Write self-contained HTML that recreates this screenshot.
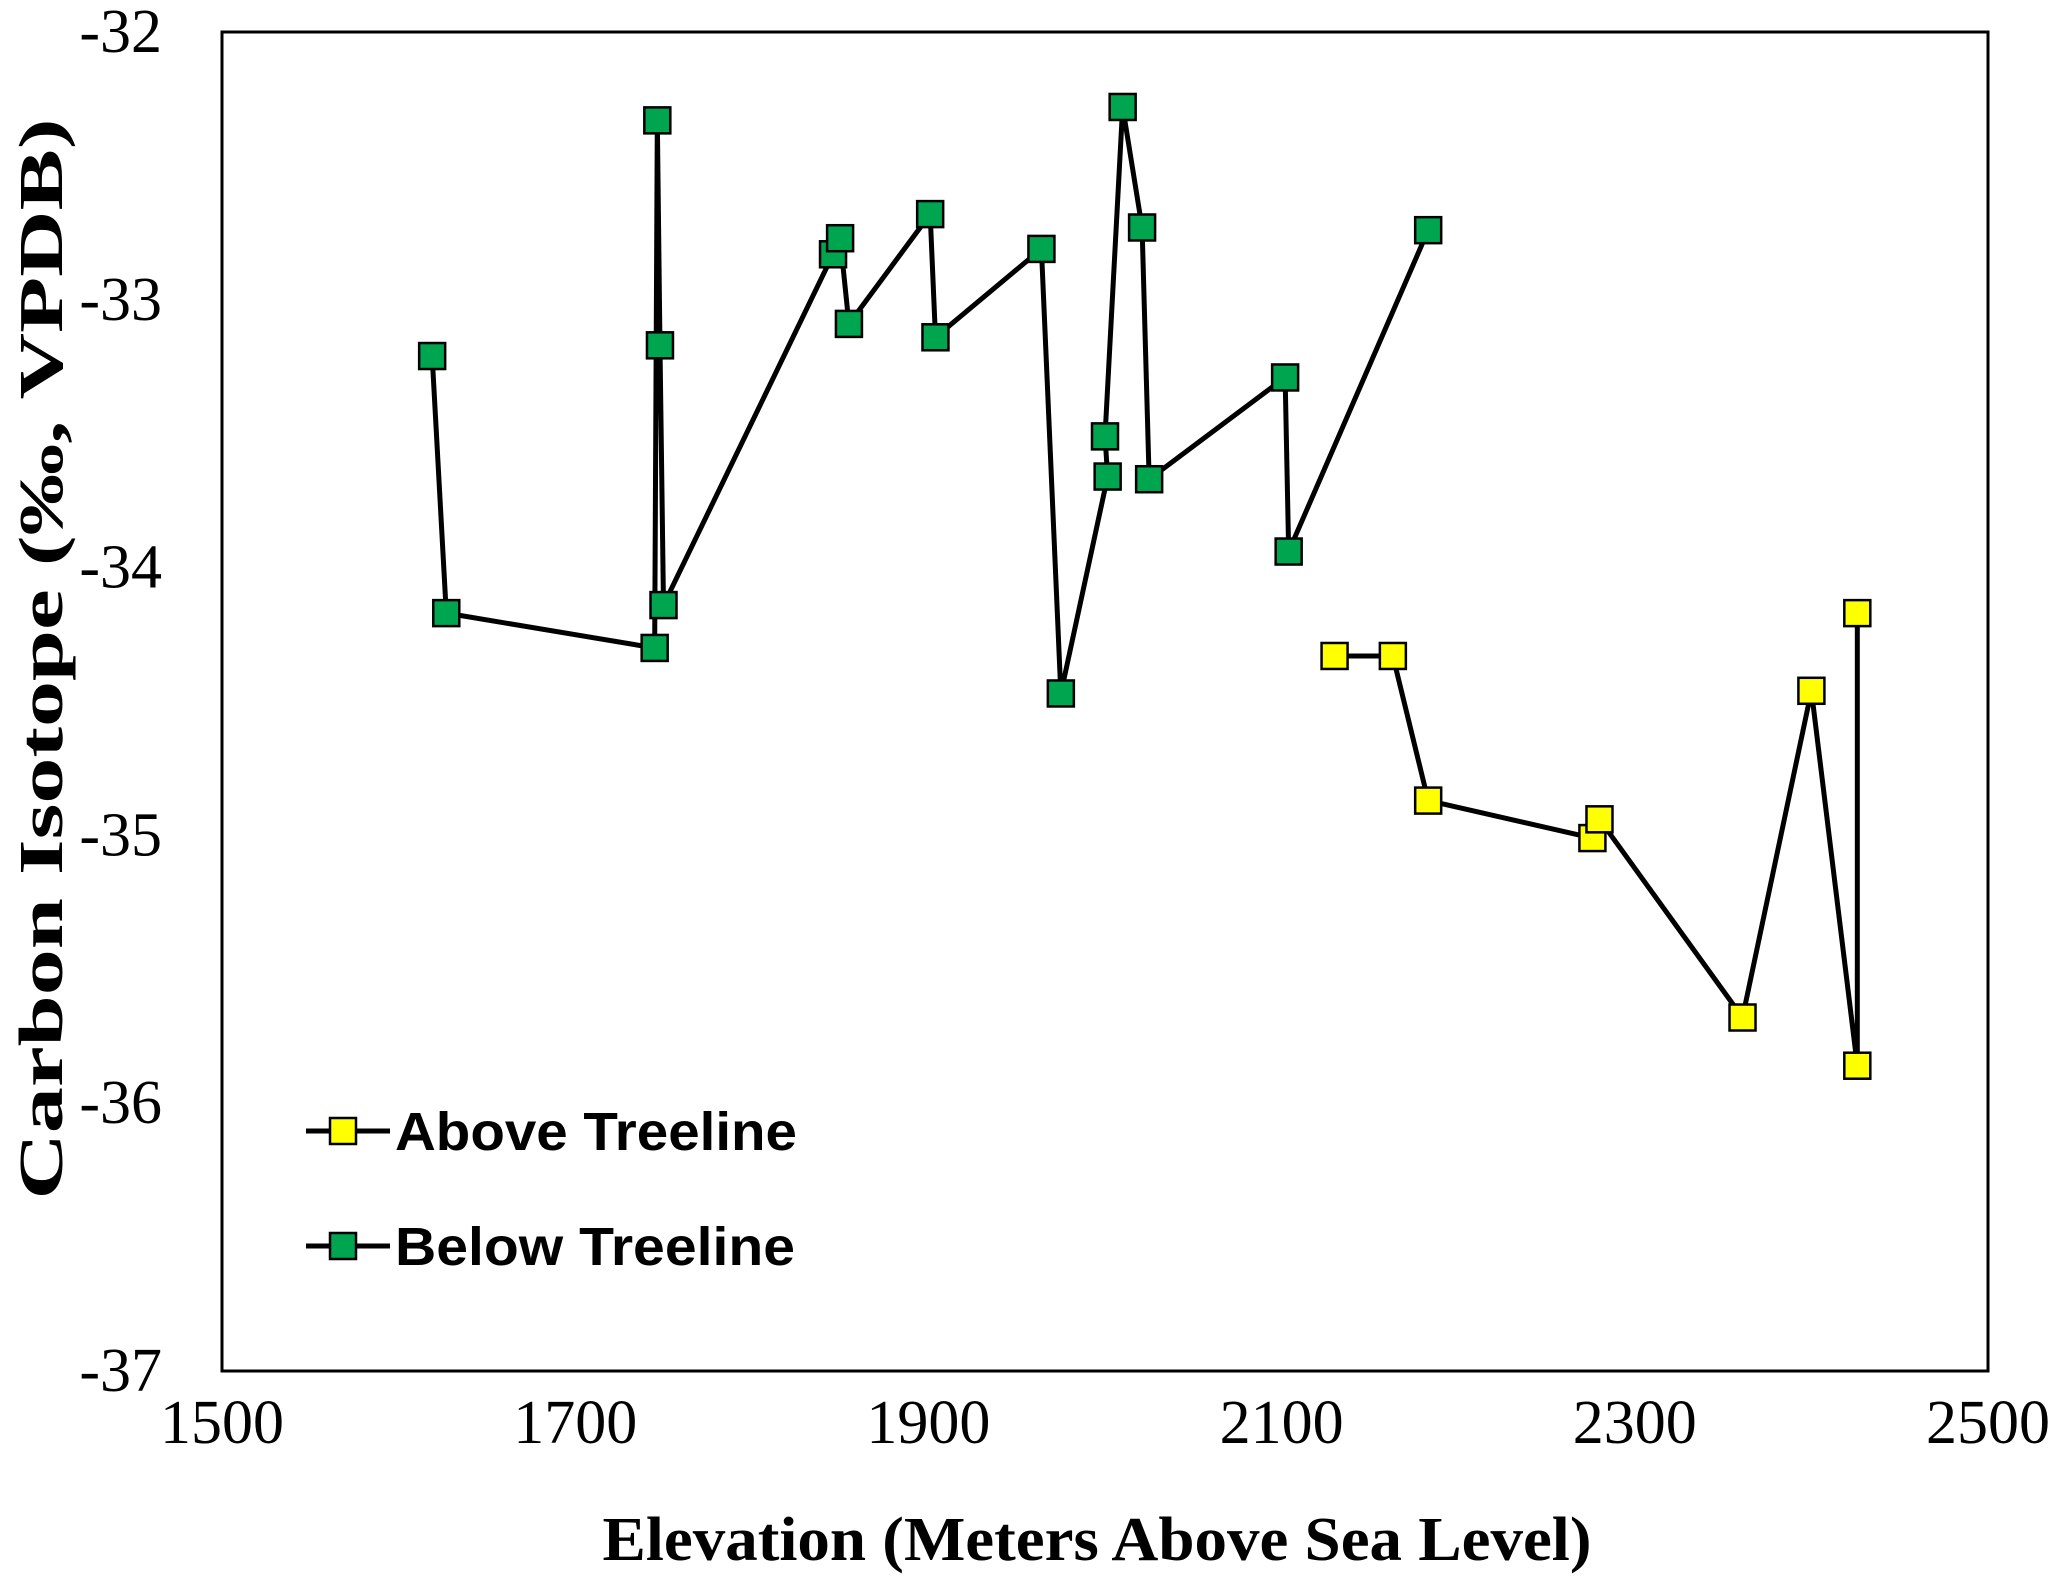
<!DOCTYPE html>
<html><head><meta charset="utf-8"><style>
html,body{margin:0;padding:0;background:#fff;}
svg{display:block;}
</style></head><body>
<svg id="chart" width="2067" height="1585" viewBox="0 0 2067 1585" xmlns="http://www.w3.org/2000/svg">
<rect x="222" y="32" width="1766" height="1339" fill="#fff" stroke="#000" stroke-width="3"/>
<g id="ticks"></g>
<g id="series"></g>
<text x="42" y="659" transform="rotate(-90 42 659)" text-anchor="middle" dominant-baseline="central" font-family="Liberation Serif, serif" font-weight="bold" font-size="62" textLength="1081" lengthAdjust="spacingAndGlyphs">Carbon Isotope (‰, VPDB)</text>
<text x="1097" y="1560" text-anchor="middle" font-family="Liberation Serif, serif" font-weight="bold" font-size="62" textLength="989" lengthAdjust="spacingAndGlyphs">Elevation (Meters Above Sea Level)</text>
<g>
 <g>
  <line x1="306" y1="1131" x2="390" y2="1131" stroke="#000" stroke-width="5"/>
  <rect x="330" y="1118" width="26" height="26" fill="#ffff00" stroke="#000" stroke-width="2.5"/>
  <text x="395" y="1150" font-family="Liberation Sans, sans-serif" font-weight="bold" font-size="54" textLength="402" lengthAdjust="spacingAndGlyphs">Above Treeline</text>
 </g>
 <g>
  <line x1="306" y1="1246" x2="390" y2="1246" stroke="#000" stroke-width="5"/>
  <rect x="330" y="1233" width="26" height="26" fill="#00a64f" stroke="#000" stroke-width="2.5"/>
  <text x="395" y="1265" font-family="Liberation Sans, sans-serif" font-weight="bold" font-size="54" textLength="400" lengthAdjust="spacingAndGlyphs">Below Treeline</text>
 </g>
</g>
</svg>
<script>
const xTicks = [1500, 1700, 1900, 2100, 2300, 2500];
const yTicks = [-32, -33, -34, -35, -36, -37];
const belowX = [1619, 1627, 1745, 1746.5, 1748, 1750, 1846, 1850, 1855, 1901, 1904, 1964, 1975, 2001.5, 2000, 2010, 2021, 2025, 2102, 2104, 2183];
const belowY = [-33.21, -34.17, -34.30, -32.33, -33.17, -34.14, -32.83, -32.77, -33.09, -32.68, -33.14, -32.81, -34.47, -33.66, -33.51, -32.28, -32.73, -33.67, -33.29, -33.94, -32.74];
const aboveX = [2130, 2163, 2183, 2276, 2280, 2361, 2400, 2426, 2426];
const aboveY = [-34.33, -34.33, -34.87, -35.01, -34.94, -35.68, -34.46, -35.86, -34.17];

const NS = 'http://www.w3.org/2000/svg';
function sx(v){ return 222 + (v - 1500) / 1000 * 1766; }
function sy(v){ return 32 + (-32 - v) / 5 * 1339; }
const tg = document.getElementById('ticks');
xTicks.forEach(function(t){
  const el = document.createElementNS(NS, 'text');
  el.setAttribute('x', sx(t)); el.setAttribute('y', 1443);
  el.setAttribute('text-anchor', 'middle');
  el.setAttribute('font-family', 'Liberation Serif, serif');
  el.setAttribute('font-size', '62');
  
  
  el.textContent = t; tg.appendChild(el);
});
yTicks.forEach(function(t){
  const el = document.createElementNS(NS, 'text');
  el.setAttribute('x', 162); el.setAttribute('y', sy(t));
  el.setAttribute('text-anchor', 'end');
  el.setAttribute('dominant-baseline', 'central');
  el.setAttribute('font-family', 'Liberation Serif, serif');
  el.setAttribute('font-size', '62');
  
  
  el.textContent = t; tg.appendChild(el);
});
const sg = document.getElementById('series');
function drawSeries(xs, ys, color, name){
  const g = document.createElementNS(NS, 'g');
  
  
  const pl = document.createElementNS(NS, 'polyline');
  pl.setAttribute('points', xs.map(function(x,i){ return sx(x)+','+sy(ys[i]); }).join(' '));
  pl.setAttribute('fill', 'none'); pl.setAttribute('stroke', '#000');
  pl.setAttribute('stroke-width', '5'); pl.setAttribute('stroke-linejoin', 'round');
  
  
  g.appendChild(pl);
  xs.forEach(function(x, i){
    const r = document.createElementNS(NS, 'rect');
    r.setAttribute('x', sx(x) - 13); r.setAttribute('y', sy(ys[i]) - 13);
    r.setAttribute('width', 26); r.setAttribute('height', 26);
    r.setAttribute('fill', color); r.setAttribute('stroke', '#000'); r.setAttribute('stroke-width', '2.5');
    
    
    g.appendChild(r);
  });
  sg.appendChild(g);
}
drawSeries(belowX, belowY, '#00a64f', 'below-treeline-series');
drawSeries(aboveX, aboveY, '#ffff00', 'above-treeline-series');
</script>
</body></html>
